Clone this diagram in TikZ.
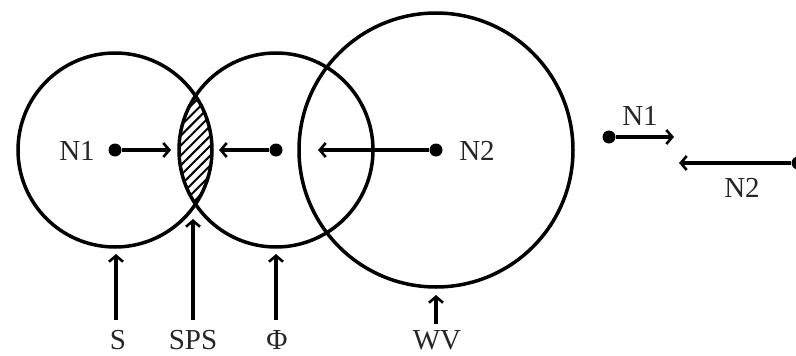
\documentclass[tikz,border=0pt]{standalone}
\usepackage{fontspec}
\setmainfont{Liberation Serif}
\usetikzlibrary{arrows.meta,patterns.meta}
\begin{document}
\begin{tikzpicture}[x=1pt,y=-1pt,
  ring/.style={circle,draw,line width=3.5pt,inner sep=0pt},
  dot/.style={circle,fill=black,inner sep=0pt,minimum size=13pt},
  arr/.style={line width=3.3pt,-{Straight Barb[length=6pt,width=14pt,line width=2.6pt]}},
  lab/.style={font=\fontsize{29}{31}\selectfont,text=black!85,inner sep=0pt}]
\useasboundingbox (0,0) rectangle (796,356);
% hatched lens
\begin{scope}
  \clip (115,150) circle (97);
  \fill[pattern={Lines[angle=45,distance=7pt,line width=2pt]}] (276,150) circle (97);
\end{scope}
\node[ring,minimum size=194pt] (C1) at (115,150) {};
\node[ring,minimum size=194pt] (C2) at (276,150) {};
\node[ring,minimum size=274pt] (C3) at (436,150) {};
\node[dot] (d1) at (115,150) {};
\node[dot] (d2) at (276,150) {};
\node[dot] (d3) at (436,150) {};
\node[lab] (n1) at (77,151) {N1};
\node[lab] (n2) at (477,151) {N2};
\coordinate (t1) at (171,150);
\coordinate (t2) at (219,150);
\coordinate (t3) at (318,150);
\draw[arr] (d1) -- (t1);
\draw[arr] (d2) -- (t2);
\draw[arr] (d3) -- (t3);
% bottom labels
\node[lab,anchor=base] (S) at (118,349) {S};
\node[lab,anchor=base] (SPS) at (193,349) {SPS};
\node[lab,anchor=base] (Phi) at (277,349) {Φ};
\node[lab,anchor=base] (WV) at (437,349) {WV};
\coordinate (s0) at (116,320); \coordinate (s1) at (116,254);
\coordinate (p0) at (193,320); \coordinate (p1) at (193,219);
\coordinate (f0) at (276,320); \coordinate (f1) at (276,254);
\coordinate (w0) at (436,324); \coordinate (w1) at (436,295);
\draw[arr] (s0) -- (s1);
\draw[arr] (p0) -- (p1);
\draw[arr] (f0) -- (f1);
\draw[arr] (w0) -- (w1);
% legend
\node[dot] (ld1) at (609,137) {};
\coordinate (lt1) at (674,137);
\draw[arr] (ld1) -- (lt1);
\node[lab] (ln1) at (640,116) {N1};
\node[dot] (ld2) at (798,163) {};
\coordinate (lt2) at (679,163);
\draw[arr] (ld2) -- (lt2);
\node[lab] (ln2) at (742,188) {N2};
\end{tikzpicture}
\end{document}
